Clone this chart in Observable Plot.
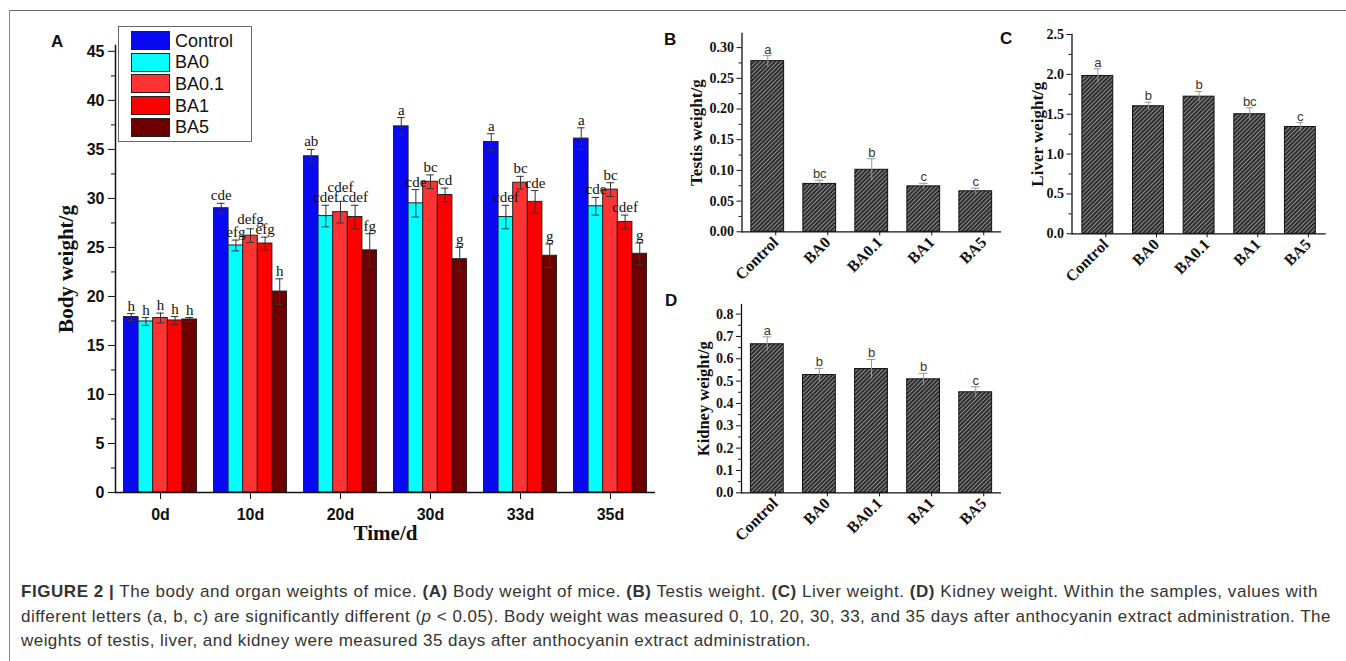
<!DOCTYPE html>
<html><head><meta charset="utf-8">
<script src="https://cdn.jsdelivr.net/npm/d3@7"></script>
<script src="https://cdn.jsdelivr.net/npm/@observablehq/plot@0.6"></script>
<style>
body{margin:0;background:#fff;}
#root{position:relative;width:1346px;height:661px;overflow:hidden;background:#fff;font-family:"Liberation Sans",Arial,sans-serif;}
.panel{position:absolute;font-family:"Liberation Sans",Arial,sans-serif;font-weight:bold;font-size:17px;line-height:17px;color:#111;}
#legend{position:absolute;left:118px;top:26px;width:132px;height:114px;border:1px solid #666;background:#fff;}
.lg-sw{position:absolute;left:12px;width:37px;height:17px;border:1px solid #222;}
.lg-tx{position:absolute;left:56px;font-size:18px;line-height:20px;color:#111;font-family:"Liberation Sans",Arial,sans-serif;}
#caption{position:absolute;left:21px;top:580px;font-size:17px;line-height:24.5px;color:#333;font-family:"Liberation Sans",Arial,sans-serif;white-space:nowrap;}
#caption .ln{display:block;}
#frameTop{position:absolute;left:9px;top:10px;width:1337px;height:0;border-top:1.5px solid #666;}
#frameLeft{position:absolute;left:9px;top:10px;width:0;height:651px;border-left:1px solid #888;}
</style></head><body>
<svg width="0" height="0" style="position:absolute"><defs>
<pattern id="hatch" patternUnits="userSpaceOnUse" width="3" height="3" patternTransform="rotate(45)">
<rect width="3" height="3" fill="#2e2e2e"/><line x1="0.5" y1="0" x2="0.5" y2="3" stroke="#8c8c8c" stroke-width="1"/>
</pattern></defs></svg>
<div id="root"></div>
<script>
// ---------- data ----------
const times = ["0d", "10d", "20d", "30d", "33d", "35d"];
const groups = ["Control", "BA0", "BA0.1", "BA1", "BA5"];
const groupColors = ["#0a0af2", "#00ffff", "#ff3333", "#ff0000", "#6e0000"];

// body weight (rows: times, cols: groups)
const bodyMean = [
  [17.9, 17.45, 17.8, 17.55, 17.65],
  [29.0, 25.2, 26.2, 25.4, 20.5],
  [34.3, 28.2, 28.6, 28.1, 24.7],
  [37.35, 29.5, 31.7, 30.35, 23.8],
  [35.75, 28.1, 31.6, 29.65, 24.15],
  [36.1, 29.2, 30.9, 27.6, 24.35]
];
const bodyErr = [
  [0.35, 0.4, 0.5, 0.4, 0.2],
  [0.5, 0.55, 0.7, 0.65, 1.3],
  [0.7, 1.1, 1.1, 1.2, 1.7],
  [0.9, 1.4, 0.7, 0.7, 1.2],
  [0.85, 1.2, 0.65, 1.15, 1.2],
  [1.1, 0.9, 0.7, 0.7, 1.1]
];
const bodySig = [
  ["h", "h", "h", "h", "h"],
  ["cde", "efg", "defg", "efg", "h"],
  ["ab", "cdef", "cdef", "cdef", "fg"],
  ["a", "cde", "bc", "cd", "g"],
  ["a", "cdef", "bc", "cde", "g"],
  ["a", "cde", "bc", "cdef", "g"]
];
const bodyTicks = [0, 5, 10, 15, 20, 25, 30, 35, 40, 45];
const bodyMinor = [2.5, 7.5, 12.5, 17.5, 22.5, 27.5, 32.5, 37.5, 42.5];

const testisMean = [0.278, 0.078, 0.101, 0.074, 0.066];
const testisErr = [0.009, 0.006, 0.018, 0.005, 0.005];
const testisSig = ["a", "bc", "b", "c", "c"];
const testisTicks = [0, 0.05, 0.10, 0.15, 0.20, 0.25, 0.30];
const testisMinor = [0.025, 0.075, 0.125, 0.175, 0.225, 0.275];

const liverMean = [1.98, 1.60, 1.72, 1.50, 1.34];
const liverErr = [0.09, 0.05, 0.065, 0.08, 0.055];
const liverSig = ["a", "b", "b", "bc", "c"];
const liverTicks = [0, 0.5, 1.0, 1.5, 2.0, 2.5];
const liverMinor = [0.25, 0.75, 1.25, 1.75, 2.25];

const kidneyMean = [0.665, 0.527, 0.554, 0.508, 0.45];
const kidneyErr = [0.033, 0.03, 0.043, 0.027, 0.025];
const kidneySig = ["a", "b", "b", "b", "c"];
const kidneyTicks = [0, 0.1, 0.2, 0.3, 0.4, 0.5, 0.6, 0.7, 0.8];
const kidneyMinor = [0.05, 0.15, 0.25, 0.35, 0.45, 0.55, 0.65, 0.75];

// ---------- drawing ----------
const serif = "'Liberation Serif','Times New Roman',serif";
const sans = "'Liberation Sans',Arial,sans-serif";
const root = document.getElementById("root");

function place(el, left, top) {
  el.style.position = "absolute";
  el.style.left = left + "px";
  el.style.top = top + "px";
  root.appendChild(el);
}

// Panel A
const rowsA = times.flatMap((t, i) => groups.map((g, j) => ({
  time: t, group: g, value: bodyMean[i][j], err: bodyErr[i][j], sig: bodySig[i][j]
})));

const plotA = Plot.plot({
  width: 680, height: 556,
  marginLeft: 115, marginRight: 25, marginTop: 45, marginBottom: 64,
  fx: {domain: times, padding: 0, round: false, label: null, axis: null},
  x: {domain: groups, paddingInner: 0, paddingOuter: 0.58, round: false, axis: null},
  y: {domain: [0, 45.6], axis: null},
  color: {domain: groups, range: groupColors},
  style: {background: "transparent", overflow: "visible", color: "#111"},
  marks: [
    Plot.barY(rowsA, {fx: "time", x: "group", y: "value", fill: "group", stroke: "#222", strokeWidth: 1}),
    Plot.ruleX(rowsA, {fx: "time", x: "group", y1: d => d.value - d.err, y2: d => d.value + d.err, stroke: "#333", strokeWidth: 1}),
    Plot.tickY(rowsA, {fx: "time", x: "group", y: d => d.value + d.err, stroke: "#333", insetLeft: 3.5, insetRight: 3.5}),
    Plot.tickY(rowsA, {fx: "time", x: "group", y: d => d.value - d.err, stroke: "#333", insetLeft: 3.5, insetRight: 3.5}),
    Plot.text(rowsA, {fx: "time", x: "group", y: d => d.value + d.err, text: "sig", dy: -3, lineAnchor: "bottom", fontFamily: serif, fontSize: 15, fill: "#111"}),
    Plot.ruleY([0], {stroke: "#111", strokeWidth: 1.5}),
    Plot.frame({anchor: "left", facet: "super", stroke: "#111", strokeWidth: 1.5}),
    Plot.axisY(bodyTicks, {anchor: "left", tickSize: 7, tickPadding: 4, fontFamily: sans, fontSize: 16, fontWeight: "bold", label: null, stroke: "#111", fill: "#111"}),
    Plot.axisY(bodyMinor, {anchor: "left", tickSize: 4, tickFormat: () => "", label: null, stroke: "#111"}),
    Plot.axisFx({anchor: "bottom", tickSize: 7, tickPadding: 9, fontFamily: sans, fontSize: 16, fontWeight: "bold", label: null, stroke: "#111", fill: "#111"}),
    Plot.text(["Body weight/g"], {facet: "super", frameAnchor: "left", textAnchor: "middle", rotate: -90, dx: -49, fontFamily: serif, fontSize: 21, fontWeight: "bold", fill: "#111"}),
    Plot.text(["Time/d"], {facet: "super", frameAnchor: "bottom", textAnchor: "middle", dy: 47, fontFamily: serif, fontSize: 21, fontWeight: "bold", fill: "#111"})
  ]
});
place(plotA, 0, 0);

// lift significance letters that collide with a lower, already placed neighbour
(function declutter() {
  const items = Array.from(plotA.querySelectorAll("text"))
    .filter(t => /^[a-h]+$/.test(t.textContent.trim()))
    .map(t => ({t, r: t.getBoundingClientRect()}))
    .sort((a, b) => b.r.bottom - a.r.bottom);
  const placed = [];
  items.forEach(({t, r}) => {
    let top = r.top + 4, bottom = r.bottom - 3;
    const left = r.left + 2.5, right = r.right - 2.5;
    let moved = true, guard = 0;
    while (moved && guard++ < 20) {
      moved = false;
      for (const p of placed) {
        if (left < p.right && right > p.left && top < p.bottom && bottom > p.top) {
          const shift = bottom - p.top + 1;
          top -= shift; bottom -= shift; moved = true;
        }
      }
    }
    const delta = (r.top + 4) - top;
    if (delta > 0) {
      const tr = t.getAttribute("transform") || "";
      t.setAttribute("transform", (tr + " translate(0," + (-delta) + ")").trim());
    }
    placed.push({left, right, top, bottom});
  });
})();

// Organ panels
function organPlot(means, errs, sigs, ticks, minor, fmt, label, opts) {
  const rows = groups.map((g, i) => ({group: g, value: means[i], err: errs[i], sig: sigs[i]}));
  return Plot.plot({
    width: opts.width, height: opts.height,
    marginLeft: opts.mL, marginRight: opts.mR, marginTop: opts.mT, marginBottom: opts.mB,
    x: {domain: groups, paddingInner: opts.pI, paddingOuter: opts.pO, round: false, axis: null},
    y: {domain: [0, opts.yMax], axis: null},
    style: {background: "transparent", overflow: "visible", color: "#111"},
    marks: [
      Plot.barY(rows, {x: "group", y: "value", fill: "url(#hatch)", stroke: "#111", strokeWidth: 1}),
      Plot.ruleX(rows, {x: "group", y1: d => d.value - d.err, y2: d => d.value + d.err, stroke: "#999", strokeWidth: 1}),
      Plot.tickY(rows, {x: "group", y: d => d.value + d.err, stroke: "#999", insetLeft: 12, insetRight: 12}),
      Plot.text(rows, {x: "group", y: d => d.value + d.err, text: "sig", dy: -2, lineAnchor: "bottom", fontFamily: sans, fontSize: 13, fill: "#333"}),
      Plot.ruleY([0], {stroke: "#111", strokeWidth: 1.3}),
      Plot.frame({anchor: "left", stroke: "#111", strokeWidth: 1.3}),
      Plot.axisY(ticks, {anchor: "left", tickSize: 5, tickPadding: 3, tickFormat: d3.format(fmt), fontFamily: serif, fontSize: 14, fontWeight: "bold", label: null, fill: "#111"}),
      Plot.axisY(minor, {anchor: "left", tickSize: 3, tickFormat: () => "", label: null}),
      Plot.axisX({anchor: "bottom", tickSize: 4, tickPadding: 4, tickRotate: -45, dx: 8, fontFamily: serif, fontSize: 16, fontWeight: "bold", label: null, fill: "#111"}),
      Plot.text([label], {frameAnchor: "left", textAnchor: "middle", rotate: -90, dx: opts.labelDx, fontFamily: serif, fontSize: opts.labelSize, fontWeight: "bold", fill: "#111"})
    ]
  });
}

place(organPlot(testisMean, testisErr, testisSig, testisTicks, testisMinor, ".2f", "Testis weight/g",
  {width: 350, height: 290, mL: 81.5, mR: 9, mT: 33, mB: 58.7, yMax: 0.323, pI: 0.37, pO: 0.18, labelDx: -45, labelSize: 17}), 660, 0);
place(organPlot(liverMean, liverErr, liverSig, liverTicks, liverMinor, ".1f", "Liver weight/g",
  {width: 346, height: 290, mL: 71.5, mR: 20.3, mT: 34, mB: 56.7, yMax: 2.5, pI: 0.39, pO: 0.205, labelDx: -34, labelSize: 17}), 1000, 0);
place(organPlot(kidneyMean, kidneyErr, kidneySig, kidneyTicks, kidneyMinor, ".1f", "Kidney weight/g",
  {width: 350, height: 260, mL: 81, mR: 9, mT: 14, mB: 57.7, yMax: 0.843, pI: 0.37, pO: 0.18, labelDx: -38, labelSize: 16.5}), 660, 290);

// Legend
const legend = document.createElement("div");
legend.id = "legend";
groups.forEach((g, i) => {
  const sw = document.createElement("div");
  sw.className = "lg-sw";
  sw.style.top = (4 + i * 21.7) + "px";
  sw.style.background = groupColors[i];
  legend.appendChild(sw);
  const tx = document.createElement("div");
  tx.className = "lg-tx";
  tx.style.top = (3.5 + i * 21.7) + "px";
  tx.textContent = g;
  legend.appendChild(tx);
});
root.appendChild(legend);

// Panel letters
[["A", 51, 33], ["B", 664, 31], ["C", 1000, 30], ["D", 665, 292]].forEach(([t, x, y]) => {
  const d = document.createElement("div");
  d.className = "panel";
  d.textContent = t;
  place(d, x, y);
});

// Frame lines
const ft = document.createElement("div"); ft.id = "frameTop"; root.appendChild(ft);
const fl = document.createElement("div"); fl.id = "frameLeft"; root.appendChild(fl);

// Caption
const cap = document.createElement("div");
cap.id = "caption";
cap.innerHTML =
  '<span class="ln" data-w="1297"><b>FIGURE 2 |</b> The body and organ weights of mice. <b>(A)</b> Body weight of mice. <b>(B)</b> Testis weight. <b>(C)</b> Liver weight. <b>(D)</b> Kidney weight. Within the samples, values with</span>' +
  '<span class="ln" data-w="1310">different letters (a, b, c) are significantly different (<i>p</i> &lt; 0.05). Body weight was measured 0, 10, 20, 30, 33, and 35 days after anthocyanin extract administration. The</span>' +
  '<span class="ln" data-w="790">weights of testis, liver, and kidney were measured 35 days after anthocyanin extract administration.</span>';
root.appendChild(cap);
cap.querySelectorAll(".ln").forEach(ln => {
  ln.style.display = "inline-block";
  const w = ln.getBoundingClientRect().width;
  const target = +ln.dataset.w;
  const n = ln.textContent.length;
  ln.style.letterSpacing = ((target - w) / n) + "px";
  ln.style.display = "block";
});
</script>
</body></html>
